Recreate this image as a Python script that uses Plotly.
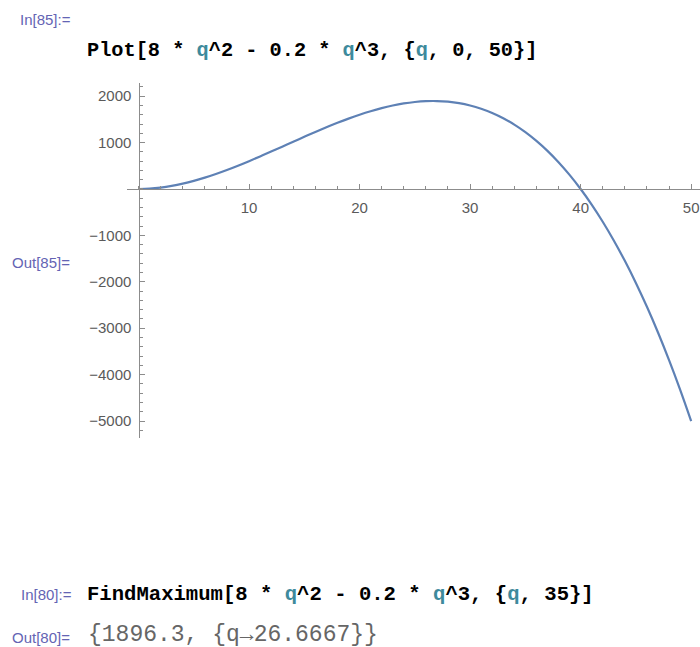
import plotly.graph_objects as go

# Values
q_vals = list(range(0, 51))
f_vals = [0, 7.8, 30.4, 66.6, 115.2, 175, 244.8, 323.4, 409.6, 502.2,
          600, 701.8, 806.4, 912.6, 1019.2, 1125, 1228.8, 1329.4, 1425.6, 1516.2,
          1600, 1675.8, 1742.4, 1798.6, 1843.2, 1875, 1892.8, 1895.4, 1881.6, 1850.2,
          1800, 1729.8, 1638.4, 1524.6, 1387.2, 1225, 1036.8, 821.4, 577.6, 304.2,
          0, -336.2, -705.6, -1109.4, -1548.8, -2025, -2539.2, -3092.6, -3686.4, -4321.8,
          -5000]

x_ticks = [10, 20, 30, 40, 50]
y_ticks = [-5000, -4000, -3000, -2000, -1000, 1000, 2000]

W, H = 700, 647
def px(x):
    return x / W
def py(y):
    return 1 - y / H

AX = "#8c8c8c"
LBL = "#5a5a5a"
TICKFONT = dict(family="Liberation Sans, Arial, sans-serif", size=15, color=LBL)

fig = go.Figure()
fig.add_trace(go.Scatter(x=q_vals, y=f_vals, mode="lines",
                         line=dict(color="#5E81B5", width=2.2, shape="spline"),
                         hoverinfo="skip", showlegend=False))

fig.update_layout(
    width=W, height=H, autosize=False,
    margin=dict(l=0, r=0, t=0, b=0),
    paper_bgcolor="white", plot_bgcolor="white",
    xaxis=dict(domain=[px(127), 1.0], range=[-1.04, 50.8],
               anchor="free", position=py(189),
               showline=True, linecolor=AX, linewidth=1.2,
               showgrid=False, zeroline=False,
               tickmode="array", tickvals=x_ticks,
               ticks="inside", ticklen=5, tickcolor=AX, tickwidth=1,
               tickfont=TICKFONT, ticklabelstandoff=5,
               minor=dict(dtick=2, tick0=0, ticks="inside", ticklen=3,
                          tickcolor=AX, tickwidth=1, showgrid=False)),
    yaxis=dict(domain=[py(438), py(83)], range=[-5366, 2284],
               anchor="free", position=px(138.5),
               showline=True, linecolor=AX, linewidth=1.2,
               showgrid=False, zeroline=False,
               tickmode="array", tickvals=y_ticks,
               ticks="inside", ticklen=5, tickcolor=AX, tickwidth=1,
               tickfont=TICKFONT, ticklabelstandoff=4,
               minor=dict(dtick=200, tick0=0, ticks="inside", ticklen=3,
                          tickcolor=AX, tickwidth=1, showgrid=False)),
)

LABEL_FONT = dict(family="Liberation Sans, Arial, sans-serif", size=15, color="#6464B4")
CODE_FONT = dict(family="Liberation Mono, Courier New, monospace", size=20.3, color="#000000")
OUT_FONT = dict(family="Liberation Mono, Courier New, monospace", size=23, color="#666666")
QC = "#3E8A9C"

def qspan():
    return f"<span style='color:{QC}'>q</span>"

expr = f"8 * {qspan()}^2 - 0.2 * {qspan()}^3"

annots = [
    (18, 19, "In[85]:=", LABEL_FONT),
    (85, 51, f"<b>Plot[{expr}, {{{qspan()}, 0, 50}}]</b>", CODE_FONT),
    (10, 263, "Out[85]=", LABEL_FONT),
    (19, 594, "In[80]:=", LABEL_FONT),
    (85, 594, f"<b>FindMaximum[{expr}, {{{qspan()}, 35}}]</b>", dict(CODE_FONT, size=20.6)),
    (10, 637, "Out[80]=", LABEL_FONT),
    (86, 635, "{1896.3, {q→26.6667}}", OUT_FONT),
]
for x, y, t, f in annots:
    fig.add_annotation(x=px(x), y=py(y), xref="paper", yref="paper",
                       xanchor="left", yanchor="middle", text=t, showarrow=False,
                       font=f)

fig.write_html("out.html", config=dict(displayModeBar=False),
               post_script="document.body.style.margin='0';document.body.style.overflow='hidden';")
